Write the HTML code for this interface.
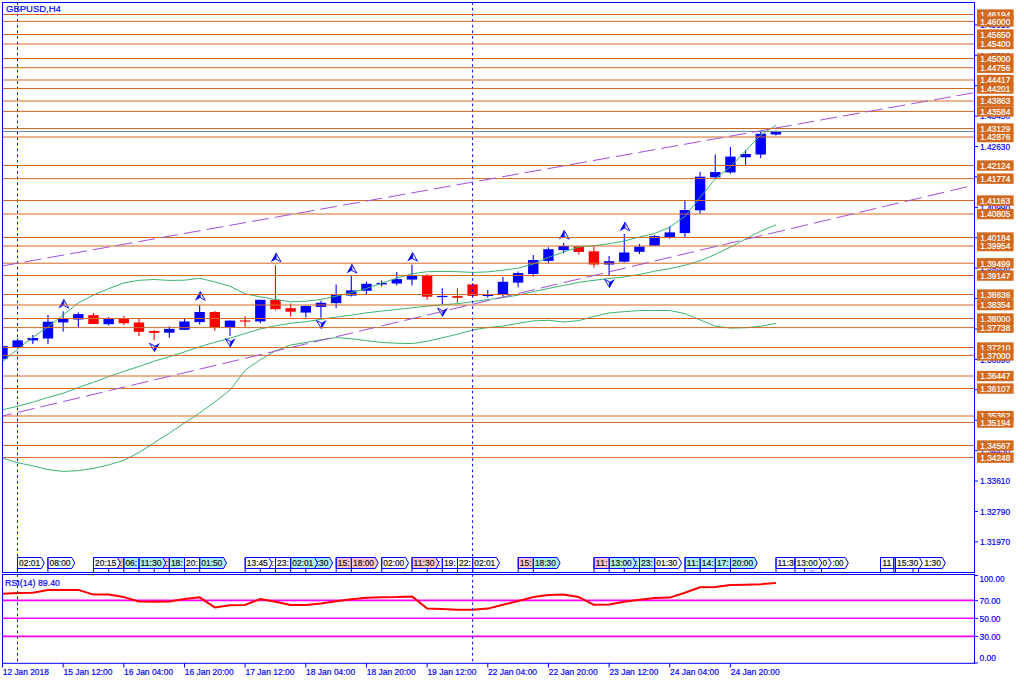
<!DOCTYPE html><html><head><meta charset="utf-8"><title>GBPUSD,H4</title>
<style>html,body{margin:0;padding:0;background:#fff;overflow:hidden}svg{display:block}text{font-family:"Liberation Sans",sans-serif;stroke-width:0.2px;paint-order:stroke}</style></head><body>
<svg width="1024" height="683" viewBox="0 0 1024 683">
<rect x="0" y="0" width="1024" height="683" fill="#fff"/>
<defs><clipPath id="cm"><rect x="2.5" y="2.5" width="972" height="570"/></clipPath><clipPath id="cr"><rect x="2.5" y="575" width="972" height="88"/></clipPath></defs>
<g clip-path="url(#cm)">
<line x1="2.50" y1="346.10" x2="2.50" y2="359.10" stroke="#0000ff" stroke-width="1.1"/>
<rect x="-2.70" y="346.10" width="10.4" height="13.00" fill="#0000ff"/>
<line x1="17.66" y1="338.30" x2="17.66" y2="347.10" stroke="#0000ff" stroke-width="1.1"/>
<rect x="12.46" y="340.40" width="10.4" height="6.70" fill="#0000ff"/>
<line x1="32.83" y1="335.00" x2="32.83" y2="344.00" stroke="#0000ff" stroke-width="1.1"/>
<rect x="27.63" y="338.00" width="10.4" height="2.40" fill="#0000ff"/>
<line x1="47.99" y1="315.10" x2="47.99" y2="344.00" stroke="#0000ff" stroke-width="1.1"/>
<rect x="42.79" y="321.70" width="10.4" height="16.80" fill="#0000ff"/>
<line x1="63.16" y1="311.30" x2="63.16" y2="331.60" stroke="#0000ff" stroke-width="1.1"/>
<rect x="57.96" y="318.90" width="10.4" height="3.50" fill="#0000ff"/>
<line x1="78.32" y1="312.60" x2="78.32" y2="327.50" stroke="#0000ff" stroke-width="1.1"/>
<rect x="73.12" y="314.10" width="10.4" height="5.40" fill="#0000ff"/>
<line x1="93.49" y1="313.10" x2="93.49" y2="324.00" stroke="#ff0000" stroke-width="1.1"/>
<rect x="88.29" y="315.10" width="10.4" height="8.90" fill="#ff0000"/>
<line x1="108.66" y1="316.90" x2="108.66" y2="325.50" stroke="#0000ff" stroke-width="1.1"/>
<rect x="103.45" y="318.70" width="10.4" height="5.50" fill="#0000ff"/>
<line x1="123.82" y1="316.10" x2="123.82" y2="325.00" stroke="#ff0000" stroke-width="1.1"/>
<rect x="118.62" y="318.30" width="10.4" height="4.90" fill="#ff0000"/>
<line x1="138.98" y1="318.10" x2="138.98" y2="335.90" stroke="#ff0000" stroke-width="1.1"/>
<rect x="133.78" y="322.50" width="10.4" height="9.30" fill="#ff0000"/>
<line x1="154.15" y1="330.10" x2="154.15" y2="340.30" stroke="#ff0000" stroke-width="1.1"/>
<rect x="148.95" y="331.00" width="10.4" height="1.80" fill="#ff0000"/>
<line x1="169.31" y1="326.30" x2="169.31" y2="337.80" stroke="#0000ff" stroke-width="1.1"/>
<rect x="164.12" y="328.90" width="10.4" height="3.80" fill="#0000ff"/>
<line x1="184.48" y1="318.30" x2="184.48" y2="329.80" stroke="#0000ff" stroke-width="1.1"/>
<rect x="179.28" y="321.50" width="10.4" height="8.30" fill="#0000ff"/>
<line x1="199.64" y1="305.10" x2="199.64" y2="324.40" stroke="#0000ff" stroke-width="1.1"/>
<rect x="194.44" y="312.00" width="10.4" height="10.10" fill="#0000ff"/>
<line x1="214.81" y1="311.10" x2="214.81" y2="330.80" stroke="#ff0000" stroke-width="1.1"/>
<rect x="209.61" y="312.00" width="10.4" height="15.40" fill="#ff0000"/>
<line x1="229.97" y1="320.60" x2="229.97" y2="335.90" stroke="#0000ff" stroke-width="1.1"/>
<rect x="224.78" y="320.60" width="10.4" height="6.60" fill="#0000ff"/>
<line x1="245.14" y1="316.20" x2="245.14" y2="327.00" stroke="#ff0000" stroke-width="1.1"/>
<rect x="239.94" y="320.40" width="10.4" height="1.20" fill="#ff0000"/>
<line x1="260.31" y1="299.80" x2="260.31" y2="323.20" stroke="#0000ff" stroke-width="1.1"/>
<rect x="255.11" y="299.80" width="10.4" height="21.60" fill="#0000ff"/>
<line x1="275.47" y1="265.40" x2="275.47" y2="310.50" stroke="#ff0000" stroke-width="1.1"/>
<rect x="270.27" y="299.90" width="10.4" height="9.30" fill="#ff0000"/>
<line x1="290.63" y1="303.50" x2="290.63" y2="316.80" stroke="#ff0000" stroke-width="1.1"/>
<rect x="285.44" y="308.20" width="10.4" height="3.50" fill="#ff0000"/>
<line x1="305.80" y1="305.40" x2="305.80" y2="317.40" stroke="#0000ff" stroke-width="1.1"/>
<rect x="300.60" y="306.00" width="10.4" height="6.60" fill="#0000ff"/>
<line x1="320.96" y1="300.70" x2="320.96" y2="317.80" stroke="#0000ff" stroke-width="1.1"/>
<rect x="315.76" y="302.80" width="10.4" height="4.10" fill="#0000ff"/>
<line x1="336.13" y1="284.40" x2="336.13" y2="307.90" stroke="#0000ff" stroke-width="1.1"/>
<rect x="330.93" y="294.80" width="10.4" height="8.30" fill="#0000ff"/>
<line x1="351.29" y1="275.90" x2="351.29" y2="296.50" stroke="#0000ff" stroke-width="1.1"/>
<rect x="346.09" y="290.40" width="10.4" height="5.20" fill="#0000ff"/>
<line x1="366.46" y1="281.60" x2="366.46" y2="294.00" stroke="#0000ff" stroke-width="1.1"/>
<rect x="361.26" y="283.80" width="10.4" height="7.00" fill="#0000ff"/>
<line x1="381.62" y1="280.40" x2="381.62" y2="286.30" stroke="#0000ff" stroke-width="1.1"/>
<rect x="376.43" y="282.90" width="10.4" height="1.50" fill="#0000ff"/>
<line x1="396.79" y1="272.00" x2="396.79" y2="285.40" stroke="#0000ff" stroke-width="1.1"/>
<rect x="391.59" y="279.10" width="10.4" height="4.40" fill="#0000ff"/>
<line x1="411.95" y1="264.80" x2="411.95" y2="285.40" stroke="#0000ff" stroke-width="1.1"/>
<rect x="406.75" y="275.90" width="10.4" height="3.70" fill="#0000ff"/>
<line x1="427.12" y1="274.00" x2="427.12" y2="299.70" stroke="#ff0000" stroke-width="1.1"/>
<rect x="421.92" y="275.50" width="10.4" height="21.20" fill="#ff0000"/>
<line x1="442.28" y1="288.20" x2="442.28" y2="304.10" stroke="#0000ff" stroke-width="1.1"/>
<rect x="437.08" y="295.90" width="10.4" height="1.20" fill="#0000ff"/>
<line x1="457.45" y1="288.20" x2="457.45" y2="302.80" stroke="#ff0000" stroke-width="1.1"/>
<rect x="452.25" y="296.10" width="10.4" height="1.70" fill="#ff0000"/>
<line x1="472.61" y1="282.90" x2="472.61" y2="297.80" stroke="#ff0000" stroke-width="1.1"/>
<rect x="467.41" y="284.40" width="10.4" height="11.50" fill="#ff0000"/>
<line x1="487.78" y1="290.10" x2="487.78" y2="297.80" stroke="#0000ff" stroke-width="1.1"/>
<rect x="482.58" y="294.80" width="10.4" height="1.20" fill="#0000ff"/>
<line x1="502.94" y1="277.10" x2="502.94" y2="296.80" stroke="#0000ff" stroke-width="1.1"/>
<rect x="497.75" y="281.80" width="10.4" height="12.50" fill="#0000ff"/>
<line x1="518.11" y1="271.40" x2="518.11" y2="287.30" stroke="#0000ff" stroke-width="1.1"/>
<rect x="512.91" y="273.10" width="10.4" height="9.50" fill="#0000ff"/>
<line x1="533.27" y1="254.90" x2="533.27" y2="276.50" stroke="#0000ff" stroke-width="1.1"/>
<rect x="528.07" y="260.00" width="10.4" height="14.00" fill="#0000ff"/>
<line x1="548.44" y1="247.30" x2="548.44" y2="263.20" stroke="#0000ff" stroke-width="1.1"/>
<rect x="543.24" y="249.20" width="10.4" height="11.70" fill="#0000ff"/>
<line x1="563.61" y1="242.90" x2="563.61" y2="253.30" stroke="#0000ff" stroke-width="1.1"/>
<rect x="558.40" y="246.00" width="10.4" height="4.20" fill="#0000ff"/>
<line x1="578.77" y1="246.30" x2="578.77" y2="254.60" stroke="#ff0000" stroke-width="1.1"/>
<rect x="573.57" y="246.30" width="10.4" height="5.70" fill="#ff0000"/>
<line x1="593.93" y1="246.20" x2="593.93" y2="267.40" stroke="#ff0000" stroke-width="1.1"/>
<rect x="588.73" y="251.30" width="10.4" height="13.20" fill="#ff0000"/>
<line x1="609.10" y1="256.10" x2="609.10" y2="275.00" stroke="#0000ff" stroke-width="1.1"/>
<rect x="603.90" y="261.20" width="10.4" height="3.30" fill="#0000ff"/>
<line x1="624.26" y1="234.00" x2="624.26" y2="262.60" stroke="#0000ff" stroke-width="1.1"/>
<rect x="619.06" y="252.50" width="10.4" height="9.20" fill="#0000ff"/>
<line x1="639.43" y1="243.90" x2="639.43" y2="254.10" stroke="#0000ff" stroke-width="1.1"/>
<rect x="634.23" y="246.60" width="10.4" height="5.20" fill="#0000ff"/>
<line x1="654.59" y1="235.10" x2="654.59" y2="245.70" stroke="#0000ff" stroke-width="1.1"/>
<rect x="649.39" y="236.10" width="10.4" height="9.60" fill="#0000ff"/>
<line x1="669.76" y1="226.20" x2="669.76" y2="238.70" stroke="#0000ff" stroke-width="1.1"/>
<rect x="664.56" y="232.40" width="10.4" height="4.80" fill="#0000ff"/>
<line x1="684.92" y1="201.00" x2="684.92" y2="237.20" stroke="#0000ff" stroke-width="1.1"/>
<rect x="679.72" y="210.00" width="10.4" height="23.10" fill="#0000ff"/>
<line x1="700.09" y1="171.80" x2="700.09" y2="213.70" stroke="#0000ff" stroke-width="1.1"/>
<rect x="694.89" y="176.70" width="10.4" height="33.60" fill="#0000ff"/>
<line x1="715.25" y1="154.50" x2="715.25" y2="178.40" stroke="#0000ff" stroke-width="1.1"/>
<rect x="710.05" y="172.00" width="10.4" height="5.30" fill="#0000ff"/>
<line x1="730.42" y1="147.00" x2="730.42" y2="173.80" stroke="#0000ff" stroke-width="1.1"/>
<rect x="725.22" y="156.60" width="10.4" height="15.80" fill="#0000ff"/>
<line x1="745.58" y1="150.00" x2="745.58" y2="164.80" stroke="#0000ff" stroke-width="1.1"/>
<rect x="740.38" y="154.00" width="10.4" height="3.30" fill="#0000ff"/>
<line x1="760.75" y1="131.20" x2="760.75" y2="158.20" stroke="#0000ff" stroke-width="1.1"/>
<rect x="755.55" y="133.80" width="10.4" height="20.70" fill="#0000ff"/>
<line x1="775.91" y1="130.50" x2="775.91" y2="135.50" stroke="#0000ff" stroke-width="1.1"/>
<rect x="770.71" y="131.20" width="10.4" height="3.30" fill="#0000ff"/>
<polyline points="2.50,361.60 17.70,349.10 32.80,337.30 47.90,327.10 63.10,314.90 78.30,303.00 93.50,295.00 108.70,288.70 123.80,283.00 139.00,280.30 154.20,279.50 169.30,280.40 184.50,280.20 199.70,278.30 214.80,281.90 230.00,286.30 245.20,293.80 260.30,296.90 275.50,299.40 290.70,301.80 305.80,301.20 321.00,299.40 336.20,296.10 351.40,292.60 366.50,288.50 381.70,283.20 396.80,278.20 412.00,273.80 427.20,271.70 442.30,271.40 457.50,271.70 472.70,272.40 487.80,271.90 503.00,270.20 518.20,268.10 533.30,264.00 548.50,257.40 563.70,252.00 578.80,247.00 594.00,245.70 609.20,243.70 624.30,241.00 639.50,237.00 654.70,233.40 669.80,227.20 685.00,216.30 700.20,197.30 715.30,178.90 730.50,166.60 745.70,150.80 760.80,134.90 776.00,125.30" fill="none" stroke="#3cb371" stroke-width="1"/>
<polyline points="2.50,409.70 17.70,406.30 32.80,402.20 47.90,397.40 63.10,393.30 78.30,387.50 93.50,382.30 108.70,376.60 123.80,371.40 139.00,366.50 154.20,361.20 169.30,356.70 184.50,351.90 199.70,346.70 214.80,342.30 230.00,338.20 245.20,333.50 260.30,328.90 275.50,325.80 290.70,323.30 305.80,321.70 321.00,319.30 336.20,317.10 351.40,315.20 366.50,312.80 381.70,311.10 396.80,309.50 412.00,307.80 427.20,306.20 442.30,304.80 457.50,303.70 472.70,301.70 487.80,299.60 503.00,297.60 518.20,295.10 533.30,291.60 548.50,288.50 563.70,285.40 578.80,282.30 594.00,280.30 609.20,278.50 624.30,276.90 639.50,274.40 654.70,271.20 669.80,268.60 685.00,265.30 700.20,260.80 715.30,254.40 730.50,247.10 745.70,238.90 760.80,231.10 776.00,224.80" fill="none" stroke="#3cb371" stroke-width="1"/>
<polyline points="2.50,458.00 17.70,462.80 32.80,465.80 47.90,469.60 63.10,471.40 78.30,470.70 93.50,468.30 108.70,464.90 123.80,460.40 139.00,452.50 154.20,442.80 169.30,433.10 184.50,423.00 199.70,412.90 214.80,401.90 230.00,390.10 245.20,370.20 260.30,359.70 275.50,350.80 290.70,345.00 305.80,342.50 321.00,339.80 336.20,337.50 351.40,338.80 366.50,340.60 381.70,342.50 396.80,343.20 412.00,343.60 427.20,341.30 442.30,337.80 457.50,334.20 472.70,330.00 487.80,327.50 503.00,326.10 518.20,323.30 533.30,320.90 548.50,320.30 563.70,322.00 578.80,320.60 594.00,316.40 609.20,312.90 624.30,311.70 639.50,310.50 654.70,310.50 669.80,310.50 685.00,313.60 700.20,319.90 715.30,326.20 730.50,328.10 745.70,327.70 760.80,326.20 776.00,323.40" fill="none" stroke="#3cb371" stroke-width="1"/>
<polygon points="63.76,298.90 58.36,308.50 63.76,305.50" fill="#0000ff"/>
<polygon points="63.76,299.30 68.76,308.10 63.76,305.50" fill="#eef0ff" stroke="#0000ff" stroke-width="0.9"/>
<polygon points="200.24,291.10 194.84,300.70 200.24,297.70" fill="#0000ff"/>
<polygon points="200.24,291.50 205.24,300.30 200.24,297.70" fill="#eef0ff" stroke="#0000ff" stroke-width="0.9"/>
<polygon points="276.07,252.70 270.67,262.30 276.07,259.30" fill="#0000ff"/>
<polygon points="276.07,253.10 281.07,261.90 276.07,259.30" fill="#eef0ff" stroke="#0000ff" stroke-width="0.9"/>
<polygon points="351.89,263.90 346.50,273.50 351.89,270.50" fill="#0000ff"/>
<polygon points="351.89,264.30 356.89,273.10 351.89,270.50" fill="#eef0ff" stroke="#0000ff" stroke-width="0.9"/>
<polygon points="412.56,252.00 407.16,261.60 412.56,258.60" fill="#0000ff"/>
<polygon points="412.56,252.40 417.56,261.20 412.56,258.60" fill="#eef0ff" stroke="#0000ff" stroke-width="0.9"/>
<polygon points="564.21,229.90 558.81,239.50 564.21,236.50" fill="#0000ff"/>
<polygon points="564.21,230.30 569.21,239.10 564.21,236.50" fill="#eef0ff" stroke="#0000ff" stroke-width="0.9"/>
<polygon points="624.87,221.70 619.47,231.30 624.87,228.30" fill="#0000ff"/>
<polygon points="624.87,222.10 629.87,230.90 624.87,228.30" fill="#eef0ff" stroke="#0000ff" stroke-width="0.9"/>
<polygon points="154.55,351.90 159.95,342.90 154.55,345.90" fill="#0000ff"/>
<polygon points="154.55,351.50 149.55,343.30 154.55,345.90" fill="#eef0ff" stroke="#0000ff" stroke-width="0.9"/>
<polygon points="230.38,347.30 235.78,338.30 230.38,341.30" fill="#0000ff"/>
<polygon points="230.38,346.90 225.38,338.70 230.38,341.30" fill="#eef0ff" stroke="#0000ff" stroke-width="0.9"/>
<polygon points="321.36,329.00 326.76,320.00 321.36,323.00" fill="#0000ff"/>
<polygon points="321.36,328.60 316.36,320.40 321.36,323.00" fill="#eef0ff" stroke="#0000ff" stroke-width="0.9"/>
<polygon points="442.68,316.80 448.08,307.80 442.68,310.80" fill="#0000ff"/>
<polygon points="442.68,316.40 437.68,308.20 442.68,310.80" fill="#eef0ff" stroke="#0000ff" stroke-width="0.9"/>
<polygon points="609.50,287.90 614.90,278.90 609.50,281.90" fill="#0000ff"/>
<polygon points="609.50,287.50 604.50,279.30 609.50,281.90" fill="#eef0ff" stroke="#0000ff" stroke-width="0.9"/>
<line x1="17.5" y1="2" x2="17.5" y2="572" stroke="#0000ff" stroke-width="1" stroke-dasharray="2.6 3.03" stroke-dashoffset="5.36"/>
<line x1="472.6" y1="2" x2="472.6" y2="572" stroke="#0000ff" stroke-width="1" stroke-dasharray="2.6 3.03" stroke-dashoffset="5.36"/>
<line x1="2" y1="14.50" x2="975" y2="14.50" stroke="#d2691e" stroke-width="1"/>
<line x1="2" y1="21.40" x2="975" y2="21.40" stroke="#d2691e" stroke-width="1"/>
<line x1="2" y1="34.50" x2="975" y2="34.50" stroke="#d2691e" stroke-width="1"/>
<line x1="2" y1="44.00" x2="975" y2="44.00" stroke="#d2691e" stroke-width="1"/>
<line x1="2" y1="58.50" x2="975" y2="58.50" stroke="#d2691e" stroke-width="1"/>
<line x1="2" y1="67.70" x2="975" y2="67.70" stroke="#d2691e" stroke-width="1"/>
<line x1="2" y1="80.00" x2="975" y2="80.00" stroke="#d2691e" stroke-width="1"/>
<line x1="2" y1="88.50" x2="975" y2="88.50" stroke="#d2691e" stroke-width="1"/>
<line x1="2" y1="101.00" x2="975" y2="101.00" stroke="#d2691e" stroke-width="1"/>
<line x1="2" y1="111.40" x2="975" y2="111.40" stroke="#d2691e" stroke-width="1"/>
<line x1="2" y1="128.50" x2="975" y2="128.50" stroke="#d2691e" stroke-width="1"/>
<line x1="2" y1="137.00" x2="975" y2="137.00" stroke="#d2691e" stroke-width="1"/>
<line x1="2" y1="165.50" x2="975" y2="165.50" stroke="#d2691e" stroke-width="1"/>
<line x1="2" y1="178.60" x2="975" y2="178.60" stroke="#d2691e" stroke-width="1"/>
<line x1="2" y1="200.50" x2="975" y2="200.50" stroke="#d2691e" stroke-width="1"/>
<line x1="2" y1="214.00" x2="975" y2="214.00" stroke="#d2691e" stroke-width="1"/>
<line x1="2" y1="237.50" x2="975" y2="237.50" stroke="#d2691e" stroke-width="1"/>
<line x1="2" y1="246.00" x2="975" y2="246.00" stroke="#d2691e" stroke-width="1"/>
<line x1="2" y1="263.20" x2="975" y2="263.20" stroke="#d2691e" stroke-width="1"/>
<line x1="2" y1="275.50" x2="975" y2="275.50" stroke="#d2691e" stroke-width="1"/>
<line x1="2" y1="294.50" x2="975" y2="294.50" stroke="#d2691e" stroke-width="1"/>
<line x1="2" y1="305.00" x2="975" y2="305.00" stroke="#d2691e" stroke-width="1"/>
<line x1="2" y1="318.50" x2="975" y2="318.50" stroke="#d2691e" stroke-width="1"/>
<line x1="2" y1="327.60" x2="975" y2="327.60" stroke="#d2691e" stroke-width="1"/>
<line x1="2" y1="347.50" x2="975" y2="347.50" stroke="#d2691e" stroke-width="1"/>
<line x1="2" y1="355.40" x2="975" y2="355.40" stroke="#d2691e" stroke-width="1"/>
<line x1="2" y1="376.00" x2="975" y2="376.00" stroke="#d2691e" stroke-width="1"/>
<line x1="2" y1="388.50" x2="975" y2="388.50" stroke="#d2691e" stroke-width="1"/>
<line x1="2" y1="416.00" x2="975" y2="416.00" stroke="#d2691e" stroke-width="1"/>
<line x1="2" y1="422.50" x2="975" y2="422.50" stroke="#d2691e" stroke-width="1"/>
<line x1="2" y1="445.50" x2="975" y2="445.50" stroke="#d2691e" stroke-width="1"/>
<line x1="2" y1="457.60" x2="975" y2="457.60" stroke="#d2691e" stroke-width="1"/>
<line x1="2" y1="131.5" x2="975" y2="131.5" stroke="#778899" stroke-width="1"/>
<line x1="2.00" y1="266.00" x2="974.00" y2="92.69" stroke="#a24fd9" stroke-width="1" stroke-dasharray="17.06 6.03" stroke-dashoffset="0.08"/>
<line x1="2.00" y1="416.10" x2="968.00" y2="186.58" stroke="#a24fd9" stroke-width="1" stroke-dasharray="17.27 6.11" stroke-dashoffset="7.28"/>
<polygon points="108.70,557.50 132.50,557.50 135.50,563.00 132.50,568.50 108.70,568.50" fill="#ffc4cc" stroke="#0000ff" stroke-width="1"/>
<line x1="108.70" y1="557.50" x2="108.70" y2="573" stroke="#0000ff" stroke-width="1"/>
<text x="110.30" y="566.2" font-size="9.5" fill="#111" stroke="#111" textLength="11.8" lengthAdjust="spacingAndGlyphs">09:</text>
<polygon points="154.20,557.50 178.00,557.50 181.00,563.00 178.00,568.50 154.20,568.50" fill="#ffc4cc" stroke="#0000ff" stroke-width="1"/>
<line x1="154.20" y1="557.50" x2="154.20" y2="573" stroke="#0000ff" stroke-width="1"/>
<text x="155.80" y="566.2" font-size="9.5" fill="#111" stroke="#111" textLength="11.8" lengthAdjust="spacingAndGlyphs">12:</text>
<polygon points="260.30,557.50 284.10,557.50 287.10,563.00 284.10,568.50 260.30,568.50" fill="#fafaf4" stroke="#0000ff" stroke-width="1"/>
<line x1="260.30" y1="557.50" x2="260.30" y2="573" stroke="#0000ff" stroke-width="1"/>
<text x="261.90" y="566.2" font-size="9.5" fill="#111" stroke="#111" textLength="11.8" lengthAdjust="spacingAndGlyphs">15:</text>
<polygon points="305.80,557.50 329.60,557.50 332.60,563.00 329.60,568.50 305.80,568.50" fill="#afeeee" stroke="#0000ff" stroke-width="1"/>
<line x1="305.80" y1="557.50" x2="305.80" y2="573" stroke="#0000ff" stroke-width="1"/>
<text x="307.40" y="566.2" font-size="9.5" fill="#111" stroke="#111" textLength="21" lengthAdjust="spacingAndGlyphs">04:30</text>
<polygon points="427.20,557.50 451.00,557.50 454.00,563.00 451.00,568.50 427.20,568.50" fill="#fafaf4" stroke="#0000ff" stroke-width="1"/>
<line x1="427.20" y1="557.50" x2="427.20" y2="573" stroke="#0000ff" stroke-width="1"/>
<text x="428.80" y="566.2" font-size="9.5" fill="#111" stroke="#111" textLength="11.8" lengthAdjust="spacingAndGlyphs">15:</text>
<polygon points="624.30,557.50 648.10,557.50 651.10,563.00 648.10,568.50 624.30,568.50" fill="#afeeee" stroke="#0000ff" stroke-width="1"/>
<line x1="624.30" y1="557.50" x2="624.30" y2="573" stroke="#0000ff" stroke-width="1"/>
<text x="625.90" y="566.2" font-size="9.5" fill="#111" stroke="#111" textLength="11.8" lengthAdjust="spacingAndGlyphs">15:</text>
<polygon points="821.50,557.50 845.30,557.50 848.30,563.00 845.30,568.50 821.50,568.50" fill="#fafaf4" stroke="#0000ff" stroke-width="1"/>
<line x1="821.50" y1="557.50" x2="821.50" y2="573" stroke="#0000ff" stroke-width="1"/>
<text x="832.40" y="566.2" font-size="9.5" fill="#111" stroke="#111" textLength="11.2" lengthAdjust="spacingAndGlyphs">:00</text>
<polygon points="880.50,557.50 904.30,557.50 907.30,563.00 904.30,568.50 880.50,568.50" fill="#fafaf4" stroke="#0000ff" stroke-width="1"/>
<line x1="880.50" y1="557.50" x2="880.50" y2="573" stroke="#0000ff" stroke-width="1"/>
<text x="882.30" y="566.2" font-size="9.5" fill="#111" stroke="#111" textLength="9.2" lengthAdjust="spacingAndGlyphs">11</text>
<polygon points="913.00,557.50 936.80,557.50 939.80,563.00 936.80,568.50 913.00,568.50" fill="#fafaf4" stroke="#0000ff" stroke-width="1"/>
<line x1="913.00" y1="557.50" x2="913.00" y2="573" stroke="#0000ff" stroke-width="1"/>
<polygon points="918.50,557.50 942.30,557.50 945.30,563.00 942.30,568.50 918.50,568.50" fill="#fafaf4" stroke="#0000ff" stroke-width="1"/>
<line x1="918.50" y1="557.50" x2="918.50" y2="573" stroke="#0000ff" stroke-width="1"/>
<text x="924.60" y="566.2" font-size="9.5" fill="#111" stroke="#111" textLength="16.2" lengthAdjust="spacingAndGlyphs">1:30</text>
<polygon points="804.40,557.50 828.20,557.50 831.20,563.00 828.20,568.50 804.40,568.50" fill="#fafaf4" stroke="#0000ff" stroke-width="1"/>
<line x1="804.40" y1="557.50" x2="804.40" y2="573" stroke="#0000ff" stroke-width="1"/>
<text x="822.60" y="566.2" font-size="9.5" fill="#111" stroke="#111" textLength="4.6" lengthAdjust="spacingAndGlyphs">0</text>
<polygon points="893.80,557.50 917.60,557.50 920.60,563.00 917.60,568.50 893.80,568.50" fill="#fafaf4" stroke="#0000ff" stroke-width="1"/>
<line x1="893.80" y1="557.50" x2="893.80" y2="573" stroke="#0000ff" stroke-width="1"/>
<polygon points="17.50,557.50 41.30,557.50 44.30,563.00 41.30,568.50 17.50,568.50" fill="#fafaf4" stroke="#0000ff" stroke-width="1"/>
<line x1="17.50" y1="557.50" x2="17.50" y2="573" stroke="#0000ff" stroke-width="1"/>
<text x="19.10" y="566.2" font-size="9.5" fill="#111" stroke="#111" textLength="21" lengthAdjust="spacingAndGlyphs">02:01</text>
<polygon points="47.90,557.50 71.70,557.50 74.70,563.00 71.70,568.50 47.90,568.50" fill="#fafaf4" stroke="#0000ff" stroke-width="1"/>
<line x1="47.90" y1="557.50" x2="47.90" y2="573" stroke="#0000ff" stroke-width="1"/>
<text x="49.50" y="566.2" font-size="9.5" fill="#111" stroke="#111" textLength="21" lengthAdjust="spacingAndGlyphs">08:00</text>
<polygon points="93.50,557.50 117.30,557.50 120.30,563.00 117.30,568.50 93.50,568.50" fill="#fafaf4" stroke="#0000ff" stroke-width="1"/>
<line x1="93.50" y1="557.50" x2="93.50" y2="573" stroke="#0000ff" stroke-width="1"/>
<text x="95.10" y="566.2" font-size="9.5" fill="#111" stroke="#111" textLength="21" lengthAdjust="spacingAndGlyphs">20:15</text>
<polygon points="123.80,557.50 147.60,557.50 150.60,563.00 147.60,568.50 123.80,568.50" fill="#afeeee" stroke="#0000ff" stroke-width="1"/>
<line x1="123.80" y1="557.50" x2="123.80" y2="573" stroke="#0000ff" stroke-width="1"/>
<text x="125.40" y="566.2" font-size="9.5" fill="#111" stroke="#111" textLength="11.8" lengthAdjust="spacingAndGlyphs">06:</text>
<polygon points="139.00,557.50 162.80,557.50 165.80,563.00 162.80,568.50 139.00,568.50" fill="#afeeee" stroke="#0000ff" stroke-width="1"/>
<line x1="139.00" y1="557.50" x2="139.00" y2="573" stroke="#0000ff" stroke-width="1"/>
<text x="140.60" y="566.2" font-size="9.5" fill="#111" stroke="#111" textLength="21" lengthAdjust="spacingAndGlyphs">11:30</text>
<polygon points="169.30,557.50 193.10,557.50 196.10,563.00 193.10,568.50 169.30,568.50" fill="#afeeee" stroke="#0000ff" stroke-width="1"/>
<line x1="169.30" y1="557.50" x2="169.30" y2="573" stroke="#0000ff" stroke-width="1"/>
<text x="170.90" y="566.2" font-size="9.5" fill="#111" stroke="#111" textLength="11.8" lengthAdjust="spacingAndGlyphs">18:</text>
<polygon points="184.50,557.50 208.30,557.50 211.30,563.00 208.30,568.50 184.50,568.50" fill="#fafaf4" stroke="#0000ff" stroke-width="1"/>
<line x1="184.50" y1="557.50" x2="184.50" y2="573" stroke="#0000ff" stroke-width="1"/>
<text x="186.10" y="566.2" font-size="9.5" fill="#111" stroke="#111" textLength="11.8" lengthAdjust="spacingAndGlyphs">20:</text>
<polygon points="199.70,557.50 223.50,557.50 226.50,563.00 223.50,568.50 199.70,568.50" fill="#afeeee" stroke="#0000ff" stroke-width="1"/>
<line x1="199.70" y1="557.50" x2="199.70" y2="573" stroke="#0000ff" stroke-width="1"/>
<text x="201.30" y="566.2" font-size="9.5" fill="#111" stroke="#111" textLength="21" lengthAdjust="spacingAndGlyphs">01:50</text>
<polygon points="245.20,557.50 269.00,557.50 272.00,563.00 269.00,568.50 245.20,568.50" fill="#fafaf4" stroke="#0000ff" stroke-width="1"/>
<line x1="245.20" y1="557.50" x2="245.20" y2="573" stroke="#0000ff" stroke-width="1"/>
<text x="246.80" y="566.2" font-size="9.5" fill="#111" stroke="#111" textLength="21" lengthAdjust="spacingAndGlyphs">13:45</text>
<polygon points="275.50,557.50 299.30,557.50 302.30,563.00 299.30,568.50 275.50,568.50" fill="#fafaf4" stroke="#0000ff" stroke-width="1"/>
<line x1="275.50" y1="557.50" x2="275.50" y2="573" stroke="#0000ff" stroke-width="1"/>
<text x="277.10" y="566.2" font-size="9.5" fill="#111" stroke="#111" textLength="11.8" lengthAdjust="spacingAndGlyphs">23:</text>
<polygon points="290.70,557.50 314.50,557.50 317.50,563.00 314.50,568.50 290.70,568.50" fill="#afeeee" stroke="#0000ff" stroke-width="1"/>
<line x1="290.70" y1="557.50" x2="290.70" y2="573" stroke="#0000ff" stroke-width="1"/>
<text x="292.30" y="566.2" font-size="9.5" fill="#111" stroke="#111" textLength="21" lengthAdjust="spacingAndGlyphs">02:01</text>
<polygon points="336.20,557.50 360.00,557.50 363.00,563.00 360.00,568.50 336.20,568.50" fill="#ffc4cc" stroke="#0000ff" stroke-width="1"/>
<line x1="336.20" y1="557.50" x2="336.20" y2="573" stroke="#0000ff" stroke-width="1"/>
<text x="337.80" y="566.2" font-size="9.5" fill="#111" stroke="#111" textLength="11.8" lengthAdjust="spacingAndGlyphs">15:</text>
<polygon points="351.40,557.50 375.20,557.50 378.20,563.00 375.20,568.50 351.40,568.50" fill="#ffc4cc" stroke="#0000ff" stroke-width="1"/>
<line x1="351.40" y1="557.50" x2="351.40" y2="573" stroke="#0000ff" stroke-width="1"/>
<text x="353.00" y="566.2" font-size="9.5" fill="#111" stroke="#111" textLength="21" lengthAdjust="spacingAndGlyphs">18:00</text>
<polygon points="381.70,557.50 405.50,557.50 408.50,563.00 405.50,568.50 381.70,568.50" fill="#fafaf4" stroke="#0000ff" stroke-width="1"/>
<line x1="381.70" y1="557.50" x2="381.70" y2="573" stroke="#0000ff" stroke-width="1"/>
<text x="383.30" y="566.2" font-size="9.5" fill="#111" stroke="#111" textLength="21" lengthAdjust="spacingAndGlyphs">02:00</text>
<polygon points="412.00,557.50 435.80,557.50 438.80,563.00 435.80,568.50 412.00,568.50" fill="#ffc4cc" stroke="#0000ff" stroke-width="1"/>
<line x1="412.00" y1="557.50" x2="412.00" y2="573" stroke="#0000ff" stroke-width="1"/>
<text x="413.60" y="566.2" font-size="9.5" fill="#111" stroke="#111" textLength="21" lengthAdjust="spacingAndGlyphs">11:30</text>
<polygon points="442.30,557.50 466.10,557.50 469.10,563.00 466.10,568.50 442.30,568.50" fill="#fafaf4" stroke="#0000ff" stroke-width="1"/>
<line x1="442.30" y1="557.50" x2="442.30" y2="573" stroke="#0000ff" stroke-width="1"/>
<text x="443.90" y="566.2" font-size="9.5" fill="#111" stroke="#111" textLength="11.8" lengthAdjust="spacingAndGlyphs">19:</text>
<polygon points="457.50,557.50 481.30,557.50 484.30,563.00 481.30,568.50 457.50,568.50" fill="#fafaf4" stroke="#0000ff" stroke-width="1"/>
<line x1="457.50" y1="557.50" x2="457.50" y2="573" stroke="#0000ff" stroke-width="1"/>
<text x="459.10" y="566.2" font-size="9.5" fill="#111" stroke="#111" textLength="11.8" lengthAdjust="spacingAndGlyphs">22:</text>
<polygon points="472.70,557.50 496.50,557.50 499.50,563.00 496.50,568.50 472.70,568.50" fill="#fafaf4" stroke="#0000ff" stroke-width="1"/>
<line x1="472.70" y1="557.50" x2="472.70" y2="573" stroke="#0000ff" stroke-width="1"/>
<text x="474.30" y="566.2" font-size="9.5" fill="#111" stroke="#111" textLength="21" lengthAdjust="spacingAndGlyphs">02:01</text>
<polygon points="518.20,557.50 542.00,557.50 545.00,563.00 542.00,568.50 518.20,568.50" fill="#ffc4cc" stroke="#0000ff" stroke-width="1"/>
<line x1="518.20" y1="557.50" x2="518.20" y2="573" stroke="#0000ff" stroke-width="1"/>
<text x="519.80" y="566.2" font-size="9.5" fill="#111" stroke="#111" textLength="11.8" lengthAdjust="spacingAndGlyphs">15:</text>
<polygon points="533.30,557.50 557.10,557.50 560.10,563.00 557.10,568.50 533.30,568.50" fill="#afeeee" stroke="#0000ff" stroke-width="1"/>
<line x1="533.30" y1="557.50" x2="533.30" y2="573" stroke="#0000ff" stroke-width="1"/>
<text x="534.90" y="566.2" font-size="9.5" fill="#111" stroke="#111" textLength="21" lengthAdjust="spacingAndGlyphs">18:30</text>
<polygon points="594.00,557.50 617.80,557.50 620.80,563.00 617.80,568.50 594.00,568.50" fill="#ffc4cc" stroke="#0000ff" stroke-width="1"/>
<line x1="594.00" y1="557.50" x2="594.00" y2="573" stroke="#0000ff" stroke-width="1"/>
<text x="595.60" y="566.2" font-size="9.5" fill="#111" stroke="#111" textLength="11.8" lengthAdjust="spacingAndGlyphs">11:</text>
<polygon points="609.20,557.50 633.00,557.50 636.00,563.00 633.00,568.50 609.20,568.50" fill="#afeeee" stroke="#0000ff" stroke-width="1"/>
<line x1="609.20" y1="557.50" x2="609.20" y2="573" stroke="#0000ff" stroke-width="1"/>
<text x="610.80" y="566.2" font-size="9.5" fill="#111" stroke="#111" textLength="21" lengthAdjust="spacingAndGlyphs">13:00</text>
<polygon points="639.50,557.50 663.30,557.50 666.30,563.00 663.30,568.50 639.50,568.50" fill="#afeeee" stroke="#0000ff" stroke-width="1"/>
<line x1="639.50" y1="557.50" x2="639.50" y2="573" stroke="#0000ff" stroke-width="1"/>
<text x="641.10" y="566.2" font-size="9.5" fill="#111" stroke="#111" textLength="11.8" lengthAdjust="spacingAndGlyphs">23:</text>
<polygon points="654.70,557.50 678.50,557.50 681.50,563.00 678.50,568.50 654.70,568.50" fill="#fafaf4" stroke="#0000ff" stroke-width="1"/>
<line x1="654.70" y1="557.50" x2="654.70" y2="573" stroke="#0000ff" stroke-width="1"/>
<text x="656.30" y="566.2" font-size="9.5" fill="#111" stroke="#111" textLength="21" lengthAdjust="spacingAndGlyphs">01:30</text>
<polygon points="685.00,557.50 708.80,557.50 711.80,563.00 708.80,568.50 685.00,568.50" fill="#afeeee" stroke="#0000ff" stroke-width="1"/>
<line x1="685.00" y1="557.50" x2="685.00" y2="573" stroke="#0000ff" stroke-width="1"/>
<text x="686.60" y="566.2" font-size="9.5" fill="#111" stroke="#111" textLength="11.8" lengthAdjust="spacingAndGlyphs">11:</text>
<polygon points="700.20,557.50 724.00,557.50 727.00,563.00 724.00,568.50 700.20,568.50" fill="#afeeee" stroke="#0000ff" stroke-width="1"/>
<line x1="700.20" y1="557.50" x2="700.20" y2="573" stroke="#0000ff" stroke-width="1"/>
<text x="701.80" y="566.2" font-size="9.5" fill="#111" stroke="#111" textLength="11.8" lengthAdjust="spacingAndGlyphs">14:</text>
<polygon points="715.30,557.50 739.10,557.50 742.10,563.00 739.10,568.50 715.30,568.50" fill="#afeeee" stroke="#0000ff" stroke-width="1"/>
<line x1="715.30" y1="557.50" x2="715.30" y2="573" stroke="#0000ff" stroke-width="1"/>
<text x="716.90" y="566.2" font-size="9.5" fill="#111" stroke="#111" textLength="11.8" lengthAdjust="spacingAndGlyphs">17:</text>
<polygon points="730.50,557.50 754.30,557.50 757.30,563.00 754.30,568.50 730.50,568.50" fill="#afeeee" stroke="#0000ff" stroke-width="1"/>
<line x1="730.50" y1="557.50" x2="730.50" y2="573" stroke="#0000ff" stroke-width="1"/>
<text x="732.10" y="566.2" font-size="9.5" fill="#111" stroke="#111" textLength="21" lengthAdjust="spacingAndGlyphs">20:00</text>
<polygon points="776.00,557.50 799.80,557.50 802.80,563.00 799.80,568.50 776.00,568.50" fill="#fafaf4" stroke="#0000ff" stroke-width="1"/>
<line x1="776.00" y1="557.50" x2="776.00" y2="573" stroke="#0000ff" stroke-width="1"/>
<text x="777.60" y="566.2" font-size="9.5" fill="#111" stroke="#111" textLength="21" lengthAdjust="spacingAndGlyphs">11:30</text>
<polygon points="795.00,557.50 818.80,557.50 821.80,563.00 818.80,568.50 795.00,568.50" fill="#fafaf4" stroke="#0000ff" stroke-width="1"/>
<line x1="795.00" y1="557.50" x2="795.00" y2="573" stroke="#0000ff" stroke-width="1"/>
<text x="796.60" y="566.2" font-size="9.5" fill="#111" stroke="#111" textLength="21" lengthAdjust="spacingAndGlyphs">13:00</text>
<polygon points="895.50,557.50 919.30,557.50 922.30,563.00 919.30,568.50 895.50,568.50" fill="#fafaf4" stroke="#0000ff" stroke-width="1"/>
<line x1="895.50" y1="557.50" x2="895.50" y2="573" stroke="#0000ff" stroke-width="1"/>
<text x="897.10" y="566.2" font-size="9.5" fill="#111" stroke="#111" textLength="21" lengthAdjust="spacingAndGlyphs">15:30</text>
<rect x="810.2" y="570.2" width="4.6" height="1.4" fill="#9fa8ff"/>
</g>
<text x="6" y="12.3" font-size="9.5" fill="#0000ff" stroke="#0000ff">GBPUSD,H4</text>
<rect x="2.5" y="2.5" width="972" height="570" fill="none" stroke="#0000ff" stroke-width="1"/>
<line x1="974" y1="24.88" x2="978" y2="24.88" stroke="#0000ff" stroke-width="1"/>
<text x="980" y="28.18" font-size="9.5" fill="#0000ff" stroke="#0000ff" textLength="30" lengthAdjust="spacingAndGlyphs">1.45910</text>
<line x1="974" y1="55.29" x2="978" y2="55.29" stroke="#0000ff" stroke-width="1"/>
<text x="980" y="58.59" font-size="9.5" fill="#0000ff" stroke="#0000ff" textLength="30" lengthAdjust="spacingAndGlyphs">1.45090</text>
<line x1="974" y1="85.70" x2="978" y2="85.70" stroke="#0000ff" stroke-width="1"/>
<text x="980" y="89.00" font-size="9.5" fill="#0000ff" stroke="#0000ff" textLength="30" lengthAdjust="spacingAndGlyphs">1.44270</text>
<line x1="974" y1="116.11" x2="978" y2="116.11" stroke="#0000ff" stroke-width="1"/>
<text x="980" y="119.41" font-size="9.5" fill="#0000ff" stroke="#0000ff" textLength="30" lengthAdjust="spacingAndGlyphs">1.43450</text>
<line x1="974" y1="146.52" x2="978" y2="146.52" stroke="#0000ff" stroke-width="1"/>
<text x="980" y="149.82" font-size="9.5" fill="#0000ff" stroke="#0000ff" textLength="30" lengthAdjust="spacingAndGlyphs">1.42630</text>
<line x1="974" y1="176.93" x2="978" y2="176.93" stroke="#0000ff" stroke-width="1"/>
<text x="980" y="180.23" font-size="9.5" fill="#0000ff" stroke="#0000ff" textLength="30" lengthAdjust="spacingAndGlyphs">1.41810</text>
<line x1="974" y1="207.34" x2="978" y2="207.34" stroke="#0000ff" stroke-width="1"/>
<text x="980" y="210.64" font-size="9.5" fill="#0000ff" stroke="#0000ff" textLength="30" lengthAdjust="spacingAndGlyphs">1.40990</text>
<line x1="974" y1="237.75" x2="978" y2="237.75" stroke="#0000ff" stroke-width="1"/>
<text x="980" y="241.05" font-size="9.5" fill="#0000ff" stroke="#0000ff" textLength="30" lengthAdjust="spacingAndGlyphs">1.40170</text>
<line x1="974" y1="268.16" x2="978" y2="268.16" stroke="#0000ff" stroke-width="1"/>
<text x="980" y="271.46" font-size="9.5" fill="#0000ff" stroke="#0000ff" textLength="30" lengthAdjust="spacingAndGlyphs">1.39350</text>
<line x1="974" y1="298.57" x2="978" y2="298.57" stroke="#0000ff" stroke-width="1"/>
<text x="980" y="301.87" font-size="9.5" fill="#0000ff" stroke="#0000ff" textLength="30" lengthAdjust="spacingAndGlyphs">1.38530</text>
<line x1="974" y1="328.98" x2="978" y2="328.98" stroke="#0000ff" stroke-width="1"/>
<text x="980" y="332.28" font-size="9.5" fill="#0000ff" stroke="#0000ff" textLength="30" lengthAdjust="spacingAndGlyphs">1.37710</text>
<line x1="974" y1="359.39" x2="978" y2="359.39" stroke="#0000ff" stroke-width="1"/>
<text x="980" y="362.69" font-size="9.5" fill="#0000ff" stroke="#0000ff" textLength="30" lengthAdjust="spacingAndGlyphs">1.36890</text>
<line x1="974" y1="389.80" x2="978" y2="389.80" stroke="#0000ff" stroke-width="1"/>
<text x="980" y="393.10" font-size="9.5" fill="#0000ff" stroke="#0000ff" textLength="30" lengthAdjust="spacingAndGlyphs">1.36070</text>
<line x1="974" y1="420.21" x2="978" y2="420.21" stroke="#0000ff" stroke-width="1"/>
<text x="980" y="423.51" font-size="9.5" fill="#0000ff" stroke="#0000ff" textLength="30" lengthAdjust="spacingAndGlyphs">1.35250</text>
<line x1="974" y1="450.62" x2="978" y2="450.62" stroke="#0000ff" stroke-width="1"/>
<text x="980" y="453.92" font-size="9.5" fill="#0000ff" stroke="#0000ff" textLength="30" lengthAdjust="spacingAndGlyphs">1.34430</text>
<line x1="974" y1="481.03" x2="978" y2="481.03" stroke="#0000ff" stroke-width="1"/>
<text x="980" y="484.33" font-size="9.5" fill="#0000ff" stroke="#0000ff" textLength="30" lengthAdjust="spacingAndGlyphs">1.33610</text>
<line x1="974" y1="511.44" x2="978" y2="511.44" stroke="#0000ff" stroke-width="1"/>
<text x="980" y="514.74" font-size="9.5" fill="#0000ff" stroke="#0000ff" textLength="30" lengthAdjust="spacingAndGlyphs">1.32790</text>
<line x1="974" y1="541.85" x2="978" y2="541.85" stroke="#0000ff" stroke-width="1"/>
<text x="980" y="545.15" font-size="9.5" fill="#0000ff" stroke="#0000ff" textLength="30" lengthAdjust="spacingAndGlyphs">1.31970</text>
<rect x="977" y="9.35" width="36.6" height="10.4" fill="#d2691e"/>
<text x="980.3" y="17.80" font-size="9.5" fill="#fff" stroke="#fff" textLength="30" lengthAdjust="spacingAndGlyphs">1.46194</text>
<rect x="977" y="16.25" width="36.6" height="10.4" fill="#d2691e"/>
<text x="980.3" y="24.70" font-size="9.5" fill="#fff" stroke="#fff" textLength="30" lengthAdjust="spacingAndGlyphs">1.46000</text>
<rect x="977" y="29.35" width="36.6" height="10.4" fill="#d2691e"/>
<text x="980.3" y="37.80" font-size="9.5" fill="#fff" stroke="#fff" textLength="30" lengthAdjust="spacingAndGlyphs">1.45650</text>
<rect x="977" y="38.85" width="36.6" height="10.4" fill="#d2691e"/>
<text x="980.3" y="47.30" font-size="9.5" fill="#fff" stroke="#fff" textLength="30" lengthAdjust="spacingAndGlyphs">1.45400</text>
<rect x="977" y="53.35" width="36.6" height="10.4" fill="#d2691e"/>
<text x="980.3" y="61.80" font-size="9.5" fill="#fff" stroke="#fff" textLength="30" lengthAdjust="spacingAndGlyphs">1.45000</text>
<rect x="977" y="62.55" width="36.6" height="10.4" fill="#d2691e"/>
<text x="980.3" y="71.00" font-size="9.5" fill="#fff" stroke="#fff" textLength="30" lengthAdjust="spacingAndGlyphs">1.44756</text>
<rect x="977" y="74.85" width="36.6" height="10.4" fill="#d2691e"/>
<text x="980.3" y="83.30" font-size="9.5" fill="#fff" stroke="#fff" textLength="30" lengthAdjust="spacingAndGlyphs">1.44417</text>
<rect x="977" y="83.35" width="36.6" height="10.4" fill="#d2691e"/>
<text x="980.3" y="91.80" font-size="9.5" fill="#fff" stroke="#fff" textLength="30" lengthAdjust="spacingAndGlyphs">1.44201</text>
<rect x="977" y="95.85" width="36.6" height="10.4" fill="#d2691e"/>
<text x="980.3" y="104.30" font-size="9.5" fill="#fff" stroke="#fff" textLength="30" lengthAdjust="spacingAndGlyphs">1.43863</text>
<rect x="977" y="106.25" width="36.6" height="10.4" fill="#d2691e"/>
<text x="980.3" y="114.70" font-size="9.5" fill="#fff" stroke="#fff" textLength="30" lengthAdjust="spacingAndGlyphs">1.43584</text>
<rect x="977" y="123.35" width="36.6" height="10.4" fill="#d2691e"/>
<text x="980.3" y="131.80" font-size="9.5" fill="#fff" stroke="#fff" textLength="30" lengthAdjust="spacingAndGlyphs">1.43129</text>
<rect x="977" y="131.85" width="36.6" height="10.4" fill="#d2691e"/>
<text x="980.3" y="140.30" font-size="9.5" fill="#fff" stroke="#fff" textLength="30" lengthAdjust="spacingAndGlyphs">1.42876</text>
<rect x="977" y="160.35" width="36.6" height="10.4" fill="#d2691e"/>
<text x="980.3" y="168.80" font-size="9.5" fill="#fff" stroke="#fff" textLength="30" lengthAdjust="spacingAndGlyphs">1.42124</text>
<rect x="977" y="173.45" width="36.6" height="10.4" fill="#d2691e"/>
<text x="980.3" y="181.90" font-size="9.5" fill="#fff" stroke="#fff" textLength="30" lengthAdjust="spacingAndGlyphs">1.41774</text>
<rect x="977" y="195.35" width="36.6" height="10.4" fill="#d2691e"/>
<text x="980.3" y="203.80" font-size="9.5" fill="#fff" stroke="#fff" textLength="30" lengthAdjust="spacingAndGlyphs">1.41163</text>
<rect x="977" y="208.85" width="36.6" height="10.4" fill="#d2691e"/>
<text x="980.3" y="217.30" font-size="9.5" fill="#fff" stroke="#fff" textLength="30" lengthAdjust="spacingAndGlyphs">1.40805</text>
<rect x="977" y="232.35" width="36.6" height="10.4" fill="#d2691e"/>
<text x="980.3" y="240.80" font-size="9.5" fill="#fff" stroke="#fff" textLength="30" lengthAdjust="spacingAndGlyphs">1.40184</text>
<rect x="977" y="240.85" width="36.6" height="10.4" fill="#d2691e"/>
<text x="980.3" y="249.30" font-size="9.5" fill="#fff" stroke="#fff" textLength="30" lengthAdjust="spacingAndGlyphs">1.39954</text>
<rect x="977" y="258.05" width="36.6" height="10.4" fill="#d2691e"/>
<text x="980.3" y="266.50" font-size="9.5" fill="#fff" stroke="#fff" textLength="30" lengthAdjust="spacingAndGlyphs">1.39499</text>
<rect x="977" y="270.35" width="36.6" height="10.4" fill="#d2691e"/>
<text x="980.3" y="278.80" font-size="9.5" fill="#fff" stroke="#fff" textLength="30" lengthAdjust="spacingAndGlyphs">1.39147</text>
<rect x="977" y="289.35" width="36.6" height="10.4" fill="#d2691e"/>
<text x="980.3" y="297.80" font-size="9.5" fill="#fff" stroke="#fff" textLength="30" lengthAdjust="spacingAndGlyphs">1.38636</text>
<rect x="977" y="299.85" width="36.6" height="10.4" fill="#d2691e"/>
<text x="980.3" y="308.30" font-size="9.5" fill="#fff" stroke="#fff" textLength="30" lengthAdjust="spacingAndGlyphs">1.38354</text>
<rect x="977" y="313.35" width="36.6" height="10.4" fill="#d2691e"/>
<text x="980.3" y="321.80" font-size="9.5" fill="#fff" stroke="#fff" textLength="30" lengthAdjust="spacingAndGlyphs">1.38000</text>
<rect x="977" y="322.45" width="36.6" height="10.4" fill="#d2691e"/>
<text x="980.3" y="330.90" font-size="9.5" fill="#fff" stroke="#fff" textLength="30" lengthAdjust="spacingAndGlyphs">1.37738</text>
<rect x="977" y="342.35" width="36.6" height="10.4" fill="#d2691e"/>
<text x="980.3" y="350.80" font-size="9.5" fill="#fff" stroke="#fff" textLength="30" lengthAdjust="spacingAndGlyphs">1.37210</text>
<rect x="977" y="350.25" width="36.6" height="10.4" fill="#d2691e"/>
<text x="980.3" y="358.70" font-size="9.5" fill="#fff" stroke="#fff" textLength="30" lengthAdjust="spacingAndGlyphs">1.37000</text>
<rect x="977" y="370.85" width="36.6" height="10.4" fill="#d2691e"/>
<text x="980.3" y="379.30" font-size="9.5" fill="#fff" stroke="#fff" textLength="30" lengthAdjust="spacingAndGlyphs">1.36447</text>
<rect x="977" y="383.35" width="36.6" height="10.4" fill="#d2691e"/>
<text x="980.3" y="391.80" font-size="9.5" fill="#fff" stroke="#fff" textLength="30" lengthAdjust="spacingAndGlyphs">1.36107</text>
<rect x="977" y="410.85" width="36.6" height="10.4" fill="#d2691e"/>
<text x="980.3" y="419.30" font-size="9.5" fill="#fff" stroke="#fff" textLength="30" lengthAdjust="spacingAndGlyphs">1.35362</text>
<rect x="977" y="417.35" width="36.6" height="10.4" fill="#d2691e"/>
<text x="980.3" y="425.80" font-size="9.5" fill="#fff" stroke="#fff" textLength="30" lengthAdjust="spacingAndGlyphs">1.35194</text>
<rect x="977" y="440.35" width="36.6" height="10.4" fill="#d2691e"/>
<text x="980.3" y="448.80" font-size="9.5" fill="#fff" stroke="#fff" textLength="30" lengthAdjust="spacingAndGlyphs">1.34567</text>
<rect x="977" y="452.45" width="36.6" height="10.4" fill="#d2691e"/>
<text x="980.3" y="460.90" font-size="9.5" fill="#fff" stroke="#fff" textLength="30" lengthAdjust="spacingAndGlyphs">1.34248</text>
<g clip-path="url(#cr)">
<line x1="2" y1="600.4" x2="975" y2="600.4" stroke="#ff00ff" stroke-width="1.6"/>
<line x1="2" y1="618.3" x2="975" y2="618.3" stroke="#ff00ff" stroke-width="1.6"/>
<line x1="2" y1="636.4" x2="975" y2="636.4" stroke="#ff00ff" stroke-width="1.6"/>
<polyline points="2.50,593.70 17.66,593.10 32.83,592.70 47.99,589.90 63.16,589.90 78.32,589.90 93.49,594.60 108.66,594.60 123.82,597.10 138.98,601.50 154.15,601.80 169.31,601.60 184.48,599.00 199.64,597.30 214.81,607.40 229.97,605.30 245.14,604.90 260.31,599.00 275.47,601.80 290.63,605.00 305.80,605.00 320.96,603.40 336.13,601.20 351.29,599.20 366.46,597.70 381.62,597.30 396.79,597.10 411.95,596.40 427.12,608.50 442.28,608.90 457.45,609.80 472.61,609.80 487.78,608.60 502.94,604.80 518.11,601.00 533.27,597.10 548.44,595.00 563.61,594.60 578.77,597.10 593.93,604.80 609.10,604.50 624.26,601.70 639.43,599.80 654.59,597.90 669.76,597.60 684.92,592.80 700.09,587.30 715.25,587.10 730.42,585.10 745.58,584.80 760.75,584.20 775.91,583.00" fill="none" stroke="#ff0000" stroke-width="2" stroke-linejoin="round"/>
<line x1="17.5" y1="575" x2="17.5" y2="663" stroke="#0000ff" stroke-width="1" stroke-dasharray="2.6 3.03" stroke-dashoffset="0.8"/>
<line x1="472.6" y1="575" x2="472.6" y2="663" stroke="#0000ff" stroke-width="1" stroke-dasharray="2.6 3.03" stroke-dashoffset="0.8"/>
</g>
<text x="5" y="586" font-size="9.5" fill="#0000ff" stroke="#0000ff" textLength="55" lengthAdjust="spacingAndGlyphs">RSI(14) 89.40</text>
<rect x="2.5" y="574.5" width="972" height="88.8" fill="none" stroke="#0000ff" stroke-width="1"/>
<line x1="974" y1="575.5" x2="978" y2="575.5" stroke="#0000ff" stroke-width="1"/>
<text x="979.5" y="582.4" font-size="9.5" fill="#0000ff" stroke="#0000ff" textLength="25.0" lengthAdjust="spacingAndGlyphs">100.00</text>
<line x1="974" y1="600.4" x2="978" y2="600.4" stroke="#0000ff" stroke-width="1"/>
<text x="979.5" y="603.7" font-size="9.5" fill="#0000ff" stroke="#0000ff" textLength="21.0" lengthAdjust="spacingAndGlyphs">70.00</text>
<line x1="974" y1="618.3" x2="978" y2="618.3" stroke="#0000ff" stroke-width="1"/>
<text x="979.5" y="621.6" font-size="9.5" fill="#0000ff" stroke="#0000ff" textLength="21.0" lengthAdjust="spacingAndGlyphs">50.00</text>
<line x1="974" y1="636.4" x2="978" y2="636.4" stroke="#0000ff" stroke-width="1"/>
<text x="979.5" y="639.7" font-size="9.5" fill="#0000ff" stroke="#0000ff" textLength="21.0" lengthAdjust="spacingAndGlyphs">30.00</text>
<line x1="974" y1="663.0" x2="978" y2="663.0" stroke="#0000ff" stroke-width="1"/>
<text x="979.5" y="660.8" font-size="9.5" fill="#0000ff" stroke="#0000ff" textLength="16.5" lengthAdjust="spacingAndGlyphs">0.00</text>
<line x1="2.50" y1="663" x2="2.50" y2="667.5" stroke="#0000ff" stroke-width="1"/>
<text x="2.80" y="675.2" font-size="9.5" fill="#0000ff" stroke="#0000ff" textLength="46" lengthAdjust="spacingAndGlyphs">12 Jan 2018</text>
<line x1="63.16" y1="663" x2="63.16" y2="667.5" stroke="#0000ff" stroke-width="1"/>
<text x="63.46" y="675.2" font-size="9.5" fill="#0000ff" stroke="#0000ff" textLength="49" lengthAdjust="spacingAndGlyphs">15 Jan 12:00</text>
<line x1="123.82" y1="663" x2="123.82" y2="667.5" stroke="#0000ff" stroke-width="1"/>
<text x="124.12" y="675.2" font-size="9.5" fill="#0000ff" stroke="#0000ff" textLength="49" lengthAdjust="spacingAndGlyphs">16 Jan 04:00</text>
<line x1="184.48" y1="663" x2="184.48" y2="667.5" stroke="#0000ff" stroke-width="1"/>
<text x="184.78" y="675.2" font-size="9.5" fill="#0000ff" stroke="#0000ff" textLength="49" lengthAdjust="spacingAndGlyphs">16 Jan 20:00</text>
<line x1="245.14" y1="663" x2="245.14" y2="667.5" stroke="#0000ff" stroke-width="1"/>
<text x="245.44" y="675.2" font-size="9.5" fill="#0000ff" stroke="#0000ff" textLength="49" lengthAdjust="spacingAndGlyphs">17 Jan 12:00</text>
<line x1="305.80" y1="663" x2="305.80" y2="667.5" stroke="#0000ff" stroke-width="1"/>
<text x="306.10" y="675.2" font-size="9.5" fill="#0000ff" stroke="#0000ff" textLength="49" lengthAdjust="spacingAndGlyphs">18 Jan 04:00</text>
<line x1="366.46" y1="663" x2="366.46" y2="667.5" stroke="#0000ff" stroke-width="1"/>
<text x="366.76" y="675.2" font-size="9.5" fill="#0000ff" stroke="#0000ff" textLength="49" lengthAdjust="spacingAndGlyphs">18 Jan 20:00</text>
<line x1="427.12" y1="663" x2="427.12" y2="667.5" stroke="#0000ff" stroke-width="1"/>
<text x="427.42" y="675.2" font-size="9.5" fill="#0000ff" stroke="#0000ff" textLength="49" lengthAdjust="spacingAndGlyphs">19 Jan 12:00</text>
<line x1="487.78" y1="663" x2="487.78" y2="667.5" stroke="#0000ff" stroke-width="1"/>
<text x="488.08" y="675.2" font-size="9.5" fill="#0000ff" stroke="#0000ff" textLength="49" lengthAdjust="spacingAndGlyphs">22 Jan 04:00</text>
<line x1="548.44" y1="663" x2="548.44" y2="667.5" stroke="#0000ff" stroke-width="1"/>
<text x="548.74" y="675.2" font-size="9.5" fill="#0000ff" stroke="#0000ff" textLength="49" lengthAdjust="spacingAndGlyphs">22 Jan 20:00</text>
<line x1="609.10" y1="663" x2="609.10" y2="667.5" stroke="#0000ff" stroke-width="1"/>
<text x="609.40" y="675.2" font-size="9.5" fill="#0000ff" stroke="#0000ff" textLength="49" lengthAdjust="spacingAndGlyphs">23 Jan 12:00</text>
<line x1="669.76" y1="663" x2="669.76" y2="667.5" stroke="#0000ff" stroke-width="1"/>
<text x="670.06" y="675.2" font-size="9.5" fill="#0000ff" stroke="#0000ff" textLength="49" lengthAdjust="spacingAndGlyphs">24 Jan 04:00</text>
<line x1="730.42" y1="663" x2="730.42" y2="667.5" stroke="#0000ff" stroke-width="1"/>
<text x="730.72" y="675.2" font-size="9.5" fill="#0000ff" stroke="#0000ff" textLength="49" lengthAdjust="spacingAndGlyphs">24 Jan 20:00</text>
</svg></body></html>
